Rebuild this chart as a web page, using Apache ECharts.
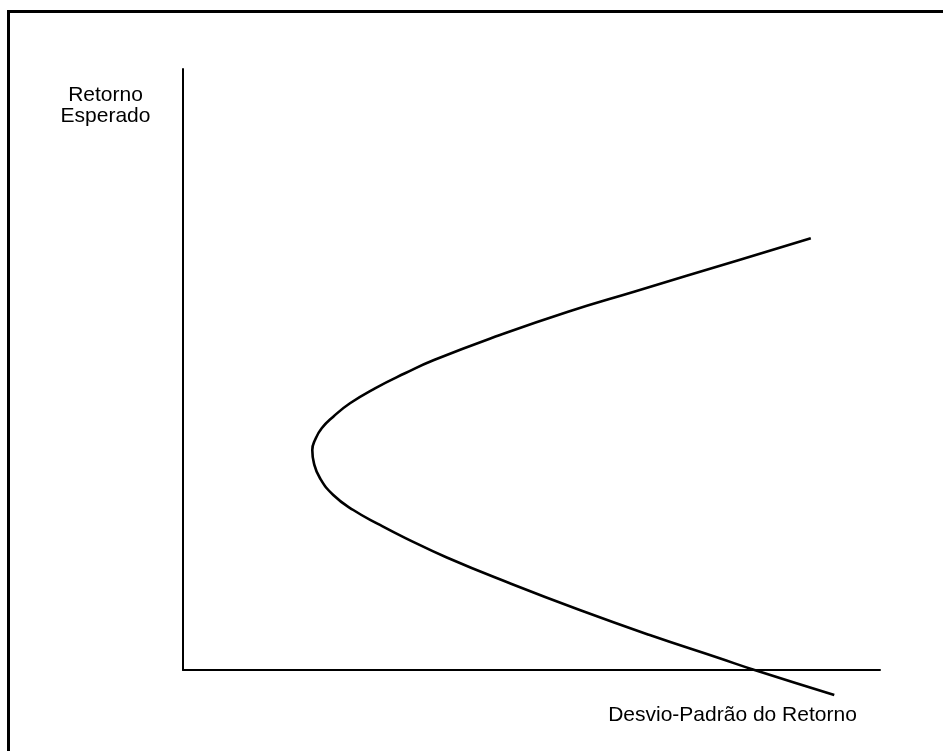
<!DOCTYPE html>
<html>
<head>
<meta charset="utf-8">
<script src="https://cdn.jsdelivr.net/npm/echarts@6/dist/echarts.min.js"></script>
<style>
html,body{margin:0;padding:0;background:#fff;}
#chart{width:943px;height:751px;}
</style>
</head>
<body>
<div id="chart"></div>
<script>
// Frontier curve (sigma, expected return), upper branch then lower branch
const sigmaValues = [90.07, 79.80, 64.71, 55.24, 45.48, 36.01, 31.85, 27.55, 23.96, 21.56, 19.90, 18.94, 18.55, 18.79, 19.66, 21.56, 24.43, 28.26, 31.99, 37.85, 46.89, 56.92, 66.96, 76.99, 82.00, 93.44];
const returnValues = [71.83, 68.22, 62.95, 59.62, 55.74, 51.58, 49.37, 46.87, 44.38, 42.15, 40.22, 38.27, 36.61, 34.39, 31.90, 29.12, 26.62, 24.13, 21.91, 18.72, 14.43, 9.98, 5.82, 1.95, 0.00, -4.16];
const yLabelLines = ['Retorno', 'Esperado'];
const xLabel = 'Desvio-Padrão do Retorno';

const font = '21px "Liberation Sans", Arial, sans-serif';
const chart = echarts.init(document.getElementById('chart'));
chart.setOption({
  animation: false,
  backgroundColor: '#fff',
  grid: { left: 183, right: 63, top: 69, bottom: 81 },
  xAxis: {
    type: 'value', min: 0, max: 100,
    axisLine: { show: true, onZero: false, lineStyle: { color: '#000', width: 2 } },
    axisTick: { show: false }, axisLabel: { show: false }, splitLine: { show: false }
  },
  yAxis: {
    type: 'value', min: 0, max: 100,
    axisLine: { show: true, onZero: false, lineStyle: { color: '#000', width: 2 } },
    axisTick: { show: false }, axisLabel: { show: false }, splitLine: { show: false }
  },
  series: [{
    type: 'line',
    data: sigmaValues.map((s, i) => [s, returnValues[i]]),
    smooth: 0.5,
    showSymbol: false,
    clip: false,
    lineStyle: { color: '#000', width: 2.6 }
  }],
  graphic: [
    { type: 'rect', z: -1, shape: { x: 8.5, y: 11.5, width: 1000, height: 1000 },
      style: { fill: 'none', stroke: '#000', lineWidth: 3 } },
    { type: 'text', style: { x: 105.5, y: 95, text: yLabelLines[0], font: font, fill: '#000', textAlign: 'center', textVerticalAlign: 'middle' } },
    { type: 'text', style: { x: 105.5, y: 116, text: yLabelLines[1], font: font, fill: '#000', textAlign: 'center', textVerticalAlign: 'middle' } },
    { type: 'text', style: { x: 732.5, y: 715.5, text: xLabel, font: font, fill: '#000', textAlign: 'center', textVerticalAlign: 'middle' } }
  ]
});
</script>
</body>
</html>
